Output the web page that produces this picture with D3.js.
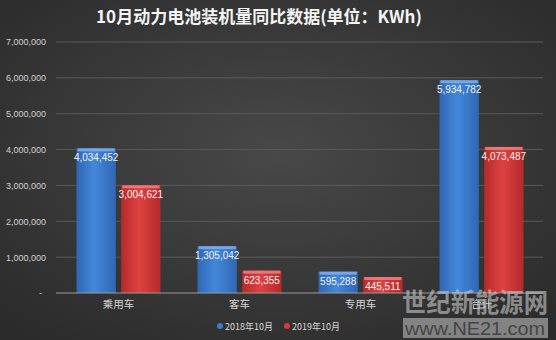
<!DOCTYPE html>
<html>
<head>
<meta charset="utf-8">
<script src="https://cdn.jsdelivr.net/npm/d3@7/dist/d3.min.js"></script>
<style>
  html, body { margin: 0; padding: 0; background: #333; }
  svg { display: block; font-family: "Noto Sans CJK SC", "Microsoft YaHei", sans-serif; }
</style>
</head>
<body>
<svg id="chart" width="556" height="340"></svg>
<script>
// Monthly power-battery installations, October 2018 vs October 2019 (KWh)
const categories = ["乘用车", "客车", "专用车", "合计"];
const seriesNames = ["2018年10月", "2019年10月"];
const values2018 = [4034452, 1305042, 595288, 5934782];
const values2019 = [3004621, 623355, 445511, 4073487];
const yTicks = [0, 1000000, 2000000, 3000000, 4000000, 5000000, 6000000, 7000000];
const titleText = "10月动力电池装机量同比数据(单位：KWh)";

const W = 556, H = 340;
const svg = d3.select("#chart");
const defs = svg.append("defs");

// background: soft dark radial glow
const bg = defs.append("radialGradient").attr("id", "bg")
  .attr("cx", "50%").attr("cy", "45%").attr("r", "70%");
bg.append("stop").attr("offset", "0%").attr("stop-color", "#484848");
bg.append("stop").attr("offset", "100%").attr("stop-color", "#2b2b2b");
svg.append("rect").attr("width", W).attr("height", H).attr("fill", "url(#bg)");

// bar gradients (rounded, glossy look)
function barGrad(id, edge, mid) {
  const g = defs.append("linearGradient").attr("id", id)
    .attr("x1", "0%").attr("x2", "100%").attr("y1", "0%").attr("y2", "0%");
  g.append("stop").attr("offset", "0%").attr("stop-color", edge);
  g.append("stop").attr("offset", "45%").attr("stop-color", mid);
  g.append("stop").attr("offset", "100%").attr("stop-color", edge);
}
barGrad("gBlue", "#2f67b4", "#4487da");
barGrad("gRed", "#b52a2a", "#de4242");
const colors = ["url(#gBlue)", "url(#gRed)"];
const topColors = ["#7fb0ec", "#f08080"];
const markerColors = ["#3d7ccc", "#d63a3a"];

const x0 = d3.scaleBand().domain(categories).range([58, 542]).paddingInner(0).paddingOuter(0);
const x1 = d3.scaleBand().domain(seriesNames).range([18.5, 102.5]).paddingInner(0.12);
const y = d3.scaleLinear().domain([0, 7000000]).range([293, 42]);

// gridlines
svg.append("g").selectAll("line").data(yTicks.filter(d => d > 0)).join("line")
  .attr("x1", 56).attr("x2", 543)
  .attr("y1", d => y(d)).attr("y2", d => y(d))
  .attr("stroke", "#5a5a5a").attr("stroke-width", 1);

// y axis labels
const fmt = d3.format(",");
const yAxis = d3.axisLeft(y).tickValues(yTicks).tickSize(0).tickPadding(0)
  .tickFormat(d => d === 0 ? "-" : fmt(d));
const ya = svg.append("g").attr("transform", "translate(46,0)").call(yAxis);
ya.select(".domain").remove();
ya.selectAll("text").attr("fill", "#d2d2d2").attr("font-size", 9)
  .attr("font-family", "Liberation Sans, Arial, sans-serif");
ya.selectAll(".tick").filter(d => d === 0).select("text").attr("dx", -4);

// bars
const rows = categories.map((c, i) => ({ cat: c, vals: [values2018[i], values2019[i]] }));
const groups = svg.append("g").selectAll("g").data(rows).join("g")
  .attr("transform", d => `translate(${x0(d.cat)},0)`);

const bars = groups.selectAll("g.bar").data(d => d.vals.map((v, s) => ({ v, s }))).join("g").attr("class", "bar");
bars.append("rect")
  .attr("x", d => x1(seriesNames[d.s])).attr("width", x1.bandwidth())
  .attr("y", d => y(d.v)).attr("height", d => y(0) - y(d.v))
  .attr("fill", d => colors[d.s]);
bars.append("rect")
  .attr("x", d => x1(seriesNames[d.s]) + 1).attr("width", x1.bandwidth() - 2)
  .attr("y", d => y(d.v)).attr("height", 3)
  .attr("fill", d => topColors[d.s]).attr("opacity", 0.85);
bars.append("text")
  .attr("x", d => x1(seriesNames[d.s]) + x1.bandwidth() / 2)
  .attr("y", d => y(d.v) + 13)
  .attr("text-anchor", "middle").attr("fill", "#f2f2f2").attr("font-size", 10)
  .attr("font-family", "Liberation Sans, Arial, sans-serif")
  .text(d => fmt(d.v));

// baseline
svg.append("line").attr("x1", 56).attr("x2", 543).attr("y1", y(0)).attr("y2", y(0))
  .attr("stroke", "#9a9a9a").attr("stroke-width", 1);

// category labels
svg.append("g").selectAll("text").data(categories).join("text")
  .attr("x", d => x0(d) + x0.bandwidth() / 2).attr("y", 308)
  .attr("text-anchor", "middle").attr("fill", "#d8d8d8").attr("font-size", 10.5)
  .text(d => d);

// title
svg.append("text").attr("x", 259).attr("y", 23).attr("text-anchor", "middle")
  .attr("fill", "#f4f4f4").attr("font-size", 17).attr("font-weight", "bold")
  .text(titleText);

// legend
const legend = svg.append("g").selectAll("g").data(seriesNames).join("g")
  .attr("transform", (d, i) => `translate(${220 + i * 67},326)`);
legend.append("circle").attr("r", 3).attr("fill", (d, i) => markerColors[i]);
legend.append("text").attr("x", 5).attr("y", 3.5).attr("fill", "#d8d8d8")
  .attr("font-size", 9).text(d => d);

// site watermark
const wm = svg.append("g").attr("pointer-events", "none");
wm.append("text").attr("x", 475).attr("y", 312).attr("text-anchor", "middle")
  .attr("font-size", 26).attr("font-weight", "bold").attr("fill", "#c8c8c8").attr("opacity", 0.6)
  .attr("textLength", 146).attr("lengthAdjust", "spacingAndGlyphs")
  .text("世纪新能源网");
wm.append("rect").attr("x", 403).attr("y", 318).attr("width", 145).attr("height", 20)
  .attr("fill", "#bdbdbd").attr("opacity", 0.6);
wm.append("text").attr("x", 475).attr("y", 335).attr("text-anchor", "middle")
  .attr("font-size", 18).attr("fill", "#3a3a3a").attr("opacity", 0.85)
  .attr("font-family", "Liberation Sans, Arial, sans-serif")
  .attr("textLength", 140).attr("lengthAdjust", "spacingAndGlyphs")
  .text("www.NE21.com");
</script>
</body>
</html>
